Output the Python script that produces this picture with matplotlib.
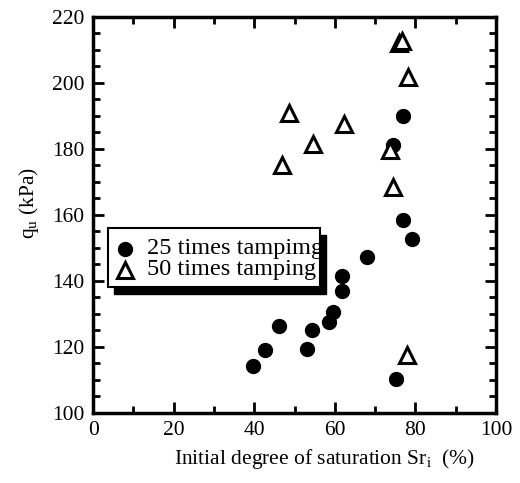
import matplotlib
matplotlib.use('Agg')
from matplotlib import pyplot as plt
from matplotlib.ticker import MultipleLocator
from matplotlib.patches import Rectangle
from matplotlib.transforms import Bbox, TransformedBbox, ScaledTranslation

plt.rcParams['font.family'] = ['Liberation Serif', 'DejaVu Serif']
plt.rcParams['mathtext.fontset'] = 'custom'
plt.rcParams['mathtext.rm'] = 'Liberation Serif'
plt.rcParams['mathtext.it'] = 'Liberation Serif'

# 25 times tamping (filled circles)
sr_25 = [39.8, 42.7, 46.2, 53.0, 54.4, 58.5, 59.5, 61.8, 61.7, 68.0, 76.8, 79.1, 75.2, 77.0, 74.5]
qu_25 = [114.3, 119.1, 126.2, 119.4, 125.2, 127.7, 130.5, 137.1, 141.6, 147.2, 158.5, 152.6, 110.3, 190.0, 181.2]

# 50 times tamping (open triangles)
sr_50 = [76.0, 76.6, 78.2, 48.5, 62.3, 54.5, 73.7, 46.9, 74.5, 77.8]
qu_50 = [212.0, 212.8, 201.9, 190.8, 187.6, 181.5, 179.7, 175.0, 168.6, 117.6]

labels = ['25 times tampimg', '50 times tamping']

fig = plt.figure(figsize=(5.2, 4.83), dpi=100)
ax = fig.add_axes([0.179, 0.145, 0.775, 0.82])

circ = dict(marker='o', linestyle='none', color='black', markersize=10)
tri = dict(marker='^', linestyle='none', markerfacecolor='white',
           markeredgecolor='black', markeredgewidth=2.2, markersize=11)

ax.plot(sr_25, qu_25, **circ)
ax.plot(sr_50, qu_50, **tri)

ax.set_xlim(0, 100)
ax.set_ylim(100, 220)
ax.xaxis.set_major_locator(MultipleLocator(20))
ax.xaxis.set_minor_locator(MultipleLocator(10))
ax.yaxis.set_major_locator(MultipleLocator(20))
ax.yaxis.set_minor_locator(MultipleLocator(5))
ax.tick_params(which='both', direction='in', top=True, right=True, width=2,
               labelsize=15.5)
ax.tick_params(which='major', length=8, pad=6)
ax.tick_params(which='minor', length=5)
for s in ax.spines.values():
    s.set_linewidth(2.5)

ax.set_xlabel(r'Initial degree of saturation Sr$_\mathrm{i}$  (%)', fontsize=15.5)
ax.xaxis.set_label_coords(0.573, -0.085)
ax.set_ylabel(r'q$_\mathrm{u}$ (kPa)', fontsize=15.5)
ax.yaxis.set_label_coords(-0.13, 0.53)

# hand-made legend box with solid black shadow, text clipped at the frame
bx, by, bw, bh = 0.037, 0.318, 0.526, 0.149
shadow_tr = ax.transAxes + ScaledTranslation(6 / 100, -7 / 100, fig.dpi_scale_trans)
ax.add_patch(Rectangle((bx, by), bw, bh, transform=shadow_tr, facecolor='black',
                       edgecolor='black', zorder=5))
ax.add_patch(Rectangle((bx, by), bw, bh, transform=ax.transAxes, facecolor='white',
                       edgecolor='black', linewidth=1.5, zorder=6))
clip = TransformedBbox(Bbox.from_bounds(bx, by, bw, bh), ax.transAxes)
rows = [0.414, 0.361]
for y, lab, style in zip(rows, labels, [circ, tri]):
    ax.plot([0.079], [y], transform=ax.transAxes, zorder=7, clip_on=False, **style)
    t = ax.text(0.134, y, lab, transform=ax.transAxes, fontsize=17.5,
                va='center', ha='left', zorder=7)
    t.set_clip_box(clip)
    t.set_clip_on(True)

fig.savefig('out.png', dpi=100)
